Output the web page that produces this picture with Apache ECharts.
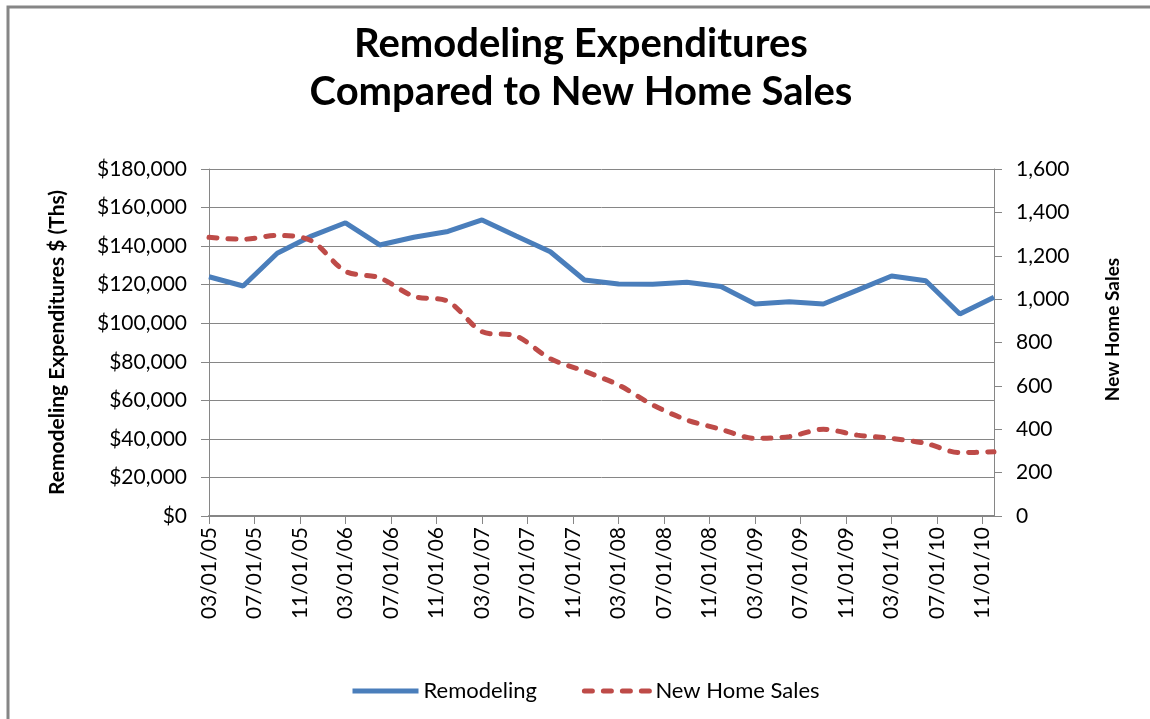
<!DOCTYPE html>
<html>
<head>
<meta charset="utf-8">
<script src="https://cdn.jsdelivr.net/npm/echarts@6/dist/echarts.min.js"></script>
<style>
  html, body { margin: 0; padding: 0; background: #fff; }
  #chart { width: 1150px; height: 719px; }
</style>
</head>
<body>
<div id="chart"></div>
<script>
// quarterly observations
var quarterDates = [
  '03/01/05', '06/01/05', '09/01/05', '12/01/05',
  '03/01/06', '06/01/06', '09/01/06', '12/01/06',
  '03/01/07', '06/01/07', '09/01/07', '12/01/07',
  '03/01/08', '06/01/08', '09/01/08', '12/01/08',
  '03/01/09', '06/01/09', '09/01/09', '12/01/09',
  '03/01/10', '06/01/10', '09/01/10', '12/01/10'
]
var remodeling = [
  124100, 119300, 136300, 145200,
  152100, 140600, 144600, 147600,
  153600, 145200, 137100, 122400,
  120300, 120200, 121200, 119000,
  110000, 111200, 110000, 117200,
  124500, 122000, 104800, 113500
]
var newHomeSales = [
  1285, 1276, 1294, 1269,
  1128, 1098, 1013, 990,
  850, 830, 725, 668,
  604, 512, 443, 400,
  358, 366, 400, 373,
  358, 335, 292, 296
]

// monthly date axis, Mar 2005 .. Dec 2010
var months = []
for (var y = 2005; y <= 2010; y++) {
  for (var m = 1; m <= 12; m++) {
    if (y == 2005 && m < 3) continue
    months.push((m < 10 ? '0' + m : '' + m) + '/01/' + String(y).slice(2))
  }
}

var font = 'Lato, "Open Sans", sans-serif'
var axisGrey = '#868686'

function pairs(vals) {
  var out = []
  for (var i = 0; i < quarterDates.length; i++) out.push([quarterDates[i], vals[i]])
  return out
}

var myChart = echarts.init(document.getElementById('chart'))
myChart.setOption({
  backgroundColor: '#fff',
  animation: false,
  graphic: [{
    type: 'rect',
    shape: { x: 8, y: 7, width: 1300, height: 900 },
    style: { fill: null, stroke: axisGrey, lineWidth: 3 },
    silent: true
  }],
  title: {
    text: 'Remodeling Expenditures\nCompared to New Home Sales',
    left: 581,
    textAlign: 'center',
    top: 20,
    padding: 0,
    textStyle: {
      fontFamily: font,
      fontSize: 40,
      fontWeight: 'bold',
      lineHeight: 48,
      color: '#000'
    }
  },
  legend: {
    left: 350,
    top: 680,
    padding: 0,
    itemWidth: 66,
    itemHeight: 14,
    itemGap: 45,
    itemStyle: { opacity: 0 },
    lineStyle: { width: 5 },
    textStyle: { fontFamily: font, fontSize: 22, color: '#000' },
    data: ['Remodeling', 'New Home Sales']
  },
  grid: { left: 209, right: 156, top: 169, bottom: 203 },
  xAxis: {
    type: 'category',
    data: months,
    boundaryGap: false,
    axisLine: { lineStyle: { color: axisGrey, width: 2 } },
    axisTick: { interval: 3, length: 8, lineStyle: { color: axisGrey } },
    axisLabel: {
      interval: 3,
      rotate: 90,
      margin: 11,
      fontFamily: font,
      fontSize: 21,
      color: '#000'
    },
    splitLine: { show: false }
  },
  yAxis: [{
    type: 'value',
    min: 0,
    max: 180000,
    interval: 20000,
    name: 'Remodeling Expenditures $ (Ths)',
    nameLocation: 'middle',
    nameGap: 141,
    nameTextStyle: { fontFamily: font, fontSize: 21, fontWeight: 'bold', color: '#000' },
    axisLine: { show: true, lineStyle: { color: axisGrey } },
    axisTick: { show: true, length: 8, lineStyle: { color: axisGrey } },
    axisLabel: {
      margin: 22,
      fontFamily: font,
      fontSize: 21,
      color: '#000',
      formatter: function (v) { return '$' + v.toLocaleString('en-US') }
    },
    splitLine: { show: true, lineStyle: { color: axisGrey, width: 1 } }
  }, {
    type: 'value',
    min: 0,
    max: 1600,
    interval: 200,
    name: 'New Home Sales',
    nameLocation: 'middle',
    nameGap: 109,
    nameTextStyle: {
      fontFamily: font, fontSize: 19, fontWeight: 'bold', color: '#000',
      padding: [0, 0, 0, 26]
    },
    axisLine: { show: true, lineStyle: { color: axisGrey } },
    axisTick: { show: true, length: 8, lineStyle: { color: axisGrey } },
    axisLabel: {
      margin: 22,
      fontFamily: font,
      fontSize: 21,
      color: '#000',
      formatter: function (v) { return v.toLocaleString('en-US') }
    },
    splitLine: { show: false }
  }],
  series: [{
    name: 'Remodeling',
    type: 'line',
    yAxisIndex: 0,
    data: pairs(remodeling),
    symbol: 'none',
    color: '#4A7EBB',
    lineStyle: { width: 5, color: '#4A7EBB' }
  }, {
    name: 'New Home Sales',
    type: 'line',
    yAxisIndex: 1,
    data: pairs(newHomeSales),
    symbol: 'none',
    smooth: 0.3,
    color: '#BE4B48',
    lineStyle: { width: 5, color: '#BE4B48', type: [8, 11], cap: 'round' }
  }]
})
</script>
</body>
</html>
